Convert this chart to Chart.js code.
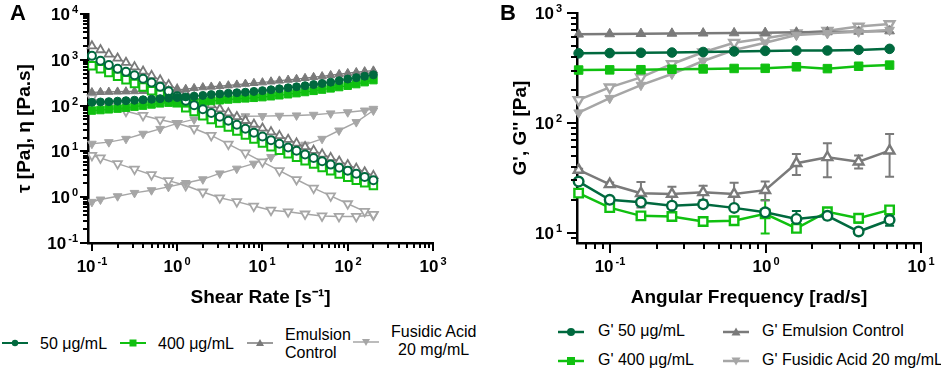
<!DOCTYPE html>
<html lang="en">
<head>
  <meta charset="UTF-8">
  <script src="https://cdn.jsdelivr.net/npm/chart.js"></script>
  <title>Rheology of emulsions</title>
  <style>
    body {
      margin: 0;
      background: #fff;
      font-family: "Liberation Sans", Arial, sans-serif;
      color: #000;
    }
    #wrap { position: relative; width: 941px; height: 372px; overflow: hidden; }
    #wrap canvas { position: absolute; top: 0; }
    #chartA { left: 0; }
    #chartB { left: 470px; }
    .panel { position: absolute; top: 0; font-weight: bold; font-size: 22px; }
    .leg { position: absolute; font-size: 16px; line-height: 18px; white-space: nowrap; }
    .sym { position: absolute; }
  </style>
</head>
<body>
<div id="wrap">
  <canvas id="chartA" width="470" height="320"></canvas>
  <canvas id="chartB" width="471" height="320"></canvas>
  <div class="panel" style="left:10px;">A</div>
  <div class="panel" style="left:500px;">B</div>

  <!-- legend A -->
  <svg class="sym" style="left:2px;top:337px" width="26" height="12"><line x1="0" y1="6" x2="26" y2="6" stroke="#00693e" stroke-width="2"/><circle cx="13" cy="6" r="3.2" fill="#00693e"/></svg>
  <div class="leg" style="left:40px;top:335px">50 μg/mL</div>
  <svg class="sym" style="left:120px;top:337px" width="26" height="12"><line x1="0" y1="6" x2="26" y2="6" stroke="#10c010" stroke-width="2"/><rect x="9.5" y="2.5" width="7" height="7" fill="#10c010"/></svg>
  <div class="leg" style="left:158px;top:335px">400 μg/mL</div>
  <svg class="sym" style="left:247px;top:337px" width="26" height="12"><line x1="0" y1="6" x2="26" y2="6" stroke="#7a7a7a" stroke-width="1.5"/><polygon points="13,2 17,9 9,9" fill="#7a7a7a"/></svg>
  <div class="leg" style="left:285px;top:326px">Emulsion<br>Control</div>
  <svg class="sym" style="left:353px;top:336px" width="26" height="12"><line x1="0" y1="6" x2="26" y2="6" stroke="#a6a6a6" stroke-width="1.5"/><polygon points="9,3 17,3 13,10" fill="#a6a6a6"/></svg>
  <div class="leg" style="left:391px;top:323px;text-align:center">Fusidic Acid<br>20 mg/mL</div>

  <!-- legend B -->
  <svg class="sym" style="left:558px;top:326px" width="26" height="12"><line x1="0" y1="6" x2="26" y2="6" stroke="#00693e" stroke-width="2.5"/><circle cx="13" cy="6" r="4" fill="#00693e"/></svg>
  <div class="leg" style="left:598px;top:322px">G' 50 μg/mL</div>
  <svg class="sym" style="left:558px;top:355px" width="26" height="12"><line x1="0" y1="6" x2="26" y2="6" stroke="#10c010" stroke-width="2.5"/><rect x="9" y="2" width="8" height="8" fill="#10c010"/></svg>
  <div class="leg" style="left:598px;top:351px">G' 400 μg/mL</div>
  <svg class="sym" style="left:723px;top:326px" width="26" height="12"><line x1="0" y1="6" x2="26" y2="6" stroke="#7a7a7a" stroke-width="2.5"/><polygon points="13,1.5 17.5,9.5 8.5,9.5" fill="#7a7a7a"/></svg>
  <div class="leg" style="left:762px;top:322px">G' Emulsion Control</div>
  <svg class="sym" style="left:723px;top:355px" width="26" height="12"><line x1="0" y1="6" x2="26" y2="6" stroke="#a6a6a6" stroke-width="2.5"/><polygon points="8.5,2.5 17.5,2.5 13,10.5" fill="#a6a6a6"/></svg>
  <div class="leg" style="left:762px;top:351px">G' Fusidic Acid 20 mg/mL</div>
</div>

<script>
// ---- Panel A: flow curves (shear stress tau, viscosity eta) ----
const shearRate = [0.1, 0.126, 0.158, 0.2, 0.251, 0.316, 0.398, 0.501, 0.631, 0.794,
                   1, 1.26, 1.58, 2, 2.51, 3.16, 3.98, 5.01, 6.31, 7.94,
                   10, 12.6, 15.8, 20, 25.1, 31.6, 39.8, 50.1, 63.1, 79.4,
                   100, 126, 158, 200];
const tau50 = [118, 120, 122, 125, 128, 131, 134, 138, 142, 146, 150, 155, 161, 167, 174, 180, 186, 191, 196, 204,
               212, 222, 233, 245, 258, 272, 288, 305, 325, 350, 380, 408, 438, 470];
const eta50 = [1220, 950, 770, 640, 545, 460, 385, 318, 258, 205, 160, 128, 102, 83.5, 69, 57, 46.7, 38.1, 31.1, 25.7,
               21.2, 17.6, 14.7, 12.2, 10.3, 8.6, 7.2, 6.1, 5.15, 4.4, 3.8, 3.24, 2.77, 2.35];
const tau400 = [78, 80, 83, 86, 90, 95, 100, 106, 112, 116, 115, 112, 115, 120, 126, 131, 136, 140, 144, 148,
                153, 160, 168, 177, 187, 198, 210, 224, 238, 254, 272, 295, 325, 360];
const eta400 = [740, 640, 530, 440, 365, 305, 255, 212, 178, 146, 116, 90, 74, 60, 50, 41.5, 34.2, 28, 22.9, 18.7,
                15.3, 12.7, 10.6, 8.85, 7.45, 6.27, 5.28, 4.47, 3.77, 3.2, 2.72, 2.34, 2.06, 1.8];
const tauEmul = [195, 197, 199, 201, 203, 205, 208, 211, 214, 217, 220, 230, 240, 250, 258, 266, 275, 286, 298, 310,
                 320, 335, 350, 365, 380, 398, 418, 435, 460, 485, 510, 535, 558, 580];
const etaEmul = [2000, 1650, 1330, 1080, 870, 700, 560, 450, 360, 285, 225, 185, 152, 125, 103, 84, 69, 57, 47, 39,
                 32, 26.6, 22.1, 18.2, 15.1, 12.6, 10.5, 8.7, 7.3, 6.1, 5.1, 4.25, 3.55, 2.95];

// fusidic acid was run on two coarser grids
const shearRateFusA = [0.1, 0.158, 0.251, 0.398, 0.631, 1, 1.58, 2.51, 3.98, 6.31, 10, 15.8, 25.1, 39.8, 63.1, 100, 158, 200];
const tauFusA = [14.7, 15.9, 18.8, 24.3, 31, 41, 50, 56, 57.5, 58.5, 59, 60, 61, 63, 67.5, 71.6, 78, 85];
const etaFusA = [147, 100, 75, 61, 49, 41, 31.6, 22.3, 14.4, 9.3, 5.9, 3.8, 2.43, 1.58, 1.07, 0.72, 0.49, 0.42];
const shearRateFusB = [0.1, 0.126, 0.2, 0.316, 0.5, 0.79, 1.26, 2, 3.16, 5, 7.9, 12.6, 20, 31.6, 50, 79, 126, 200];
const tauFusB = [0.79, 0.89, 1.05, 1.24, 1.42, 1.68, 2.04, 2.46, 3.3, 4.2, 5.4, 7.5, 10.5, 14, 18.8, 28.6, 43.6, 78];
const etaFusB = [8.2, 7.2, 5.4, 4.1, 3.1, 2.3, 1.8, 1.3, 0.97, 0.8, 0.64, 0.52, 0.48, 0.43, 0.39, 0.38, 0.38, 0.41];

// ---- Panel B: frequency sweep (G' filled, G'' open) ----
const angFreq = [0.0628, 0.0995, 0.158, 0.25, 0.397, 0.628, 0.995, 1.58, 2.5, 3.97, 6.28];
const gp50 = [430, 432, 435, 437, 442, 447, 452, 455, 456, 462, 472];
const gpp50 = [29.3, 20, 19, 17.7, 18.2, 16.9, 15.4, 13.4, 14.3, 10.3, 13.1];
const gpp50Sd = [0, 0, 0, 0, 0, 0, 0, 2.4, 1, 0, 1.5];
const gp400 = [303, 304, 305, 308, 310, 313, 314, 324, 312, 328, 336];
const gpp400 = [23, 17, 14.3, 14.1, 12.7, 12.9, 14.9, 11, 15.6, 13.6, 16.2];
const gpp400Sd = [0, 0, 0, 0, 0, 0, 5, 0.8, 0.8, 1.2, 0.8];
const gpEmul = [640, 645, 648, 652, 655, 658, 662, 667, 672, 680, 685];
const gppEmul = [37.4, 27.7, 23, 22.6, 23.4, 22.6, 24.5, 43, 48.7, 44.5, 56];
const gppEmulSd = [1, 1, 6, 3.7, 3.5, 6, 4.8, 9.3, 16.6, 6, 23.5];
const gpFus = [124, 168, 221, 279, 366, 461, 537, 631, 653, 676, 700];
const gppFus = [162, 211, 260, 344, 440, 537, 589, 653, 690, 752, 794];

// axis ticks (powers of ten get labels)
const majorA_x = [0.1, 1, 10, 100, 1000];
const majorA_y = [0.1, 1, 10, 100, 1000, 10000];
const majorB_x = [0.1, 1, 10];
const majorB_y = [10, 100, 1000];

const DARK_GREEN = '#00693e';
const GREEN = '#10c010';
const GREY = '#7a7a7a';
const LIGHT_GREY = '#a6a6a6';

function minorTicks(min, max) {
  const out = [];
  for (let e = Math.floor(Math.log10(min)); e < Math.ceil(Math.log10(max)); e++) {
    for (let m = 2; m <= 9; m++) {
      const v = m * Math.pow(10, e);
      if (v > min * 1.001 && v < max) out.push(v);
    }
  }
  return out;
}

function pts(xs, ys) {
  return xs.map((x, i) => ({ x: x, y: ys[i] }));
}

function series(label, xs, ys, color, shape, open, radius, lineWidth, markerWidth, extra) {
  return Object.assign({
    label: label,
    data: pts(xs, ys),
    borderColor: color,
    backgroundColor: open ? '#ffffff' : color,
    pointBackgroundColor: open ? '#ffffff' : color,
    pointBorderColor: color,
    pointBorderWidth: open ? markerWidth : 1,
    pointStyle: shape === 'down' ? 'triangle' : shape,
    pointRotation: shape === 'down' ? 180 : 0,
    pointRadius: radius,
    borderWidth: lineWidth,
    tension: 0,
    clip: false
  }, extra || {});
}

function powerLabel(ctx, exp, x, y, align) {
  const base = '10', sup = String(exp);
  ctx.font = 'bold 17px "Liberation Sans", Arial, sans-serif';
  const wb = ctx.measureText(base).width;
  ctx.font = 'bold 11px "Liberation Sans", Arial, sans-serif';
  const ws = ctx.measureText(sup).width;
  const w = wb + 2 + ws;
  const x0 = align === 'center' ? x - w / 2 : x - w;
  ctx.textAlign = 'left';
  ctx.textBaseline = 'alphabetic';
  ctx.font = 'bold 17px "Liberation Sans", Arial, sans-serif';
  ctx.fillText(base, x0, y);
  ctx.font = 'bold 11px "Liberation Sans", Arial, sans-serif';
  ctx.fillText(sup, x0 + wb + 2, y - 7);
}

// draws outward ticks + 10^n labels
const axisDecor = {
  id: 'axisDecor',
  afterDraw(chart, args, o) {
    const ctx = chart.ctx, xs = chart.scales.x, ys = chart.scales.y, ca = chart.chartArea;
    ctx.save();
    ctx.strokeStyle = '#000';
    ctx.fillStyle = '#000';
    ctx.lineWidth = 2;
    const line = (x1, y1, x2, y2) => { ctx.beginPath(); ctx.moveTo(x1, y1); ctx.lineTo(x2, y2); ctx.stroke(); };

    minorTicks(xs.min, xs.max).forEach(v => {
      const x = Math.round(xs.getPixelForValue(v));
      line(x, ca.bottom, x, ca.bottom + o.minorLen);
    });
    o.xMajor.forEach(v => {
      const x = Math.round(xs.getPixelForValue(v));
      line(x, ca.bottom, x, ca.bottom + o.majorLen);
      powerLabel(ctx, Math.round(Math.log10(v)), x, o.xLabelY, 'center');
    });
    minorTicks(ys.min, ys.max).forEach(v => {
      const y = Math.round(ys.getPixelForValue(v));
      line(ca.left - o.minorLen, y, ca.left, y);
    });
    o.yMajor.forEach(v => {
      const y = Math.round(ys.getPixelForValue(v));
      line(ca.left - o.majorLen, y, ca.left, y);
      powerLabel(ctx, Math.round(Math.log10(v)), ca.left - o.yLabelGap, y + 6, 'right');
    });
    ctx.restore();
  }
};

// symmetric SD bars for datasets that carry an "sd" array
const errorBars = {
  id: 'errorBars',
  beforeDatasetsDraw(chart) {
    const ctx = chart.ctx, xs = chart.scales.x, ys = chart.scales.y;
    ctx.save();
    chart.data.datasets.forEach(ds => {
      if (!ds.sd) return;
      ctx.strokeStyle = ds.borderColor;
      ctx.lineWidth = 2;
      ds.data.forEach((p, i) => {
        const e = ds.sd[i];
        if (!e) return;
        const x = xs.getPixelForValue(p.x);
        const yt = ys.getPixelForValue(p.y + e);
        const yb = ys.getPixelForValue(Math.max(p.y - e, 0.01));
        ctx.beginPath();
        ctx.moveTo(x, yt); ctx.lineTo(x, yb);
        ctx.moveTo(x - 4.5, yt); ctx.lineTo(x + 4.5, yt);
        ctx.moveTo(x - 4.5, yb); ctx.lineTo(x + 4.5, yb);
        ctx.stroke();
      });
    });
    ctx.restore();
  }
};

Chart.defaults.font.family = '"Liberation Sans", Arial, sans-serif';
Chart.defaults.color = '#000';

function logAxis(min, max, fitSize, horizontal, title, titlePad) {
  return {
    type: 'logarithmic',
    min: min,
    max: max,
    bounds: 'data',
    ticks: { display: false },
    grid: { display: false },
    border: { display: true, color: '#000', width: 2.5 },
    title: {
      display: true,
      text: title,
      color: '#000',
      font: { size: 19, weight: 'bold' },
      padding: titlePad
    },
    afterFit(scale) {
      if (horizontal) scale.height = fitSize; else scale.width = fitSize;
    }
  };
}

new Chart(document.getElementById('chartA'), {
  type: 'line',
  data: {
    datasets: [
      series('50 μg/mL τ', shearRate, tau50, DARK_GREEN, 'circle', false, 4, 1.3, 1),
      series('50 μg/mL η', shearRate, eta50, DARK_GREEN, 'circle', true, 4, 1.5, 2),
      series('400 μg/mL τ', shearRate, tau400, GREEN, 'rect', false, 5.3, 1.3, 1),
      series('400 μg/mL η', shearRate, eta400, GREEN, 'rect', true, 5.3, 1.5, 2),
      series('Emulsion Control τ', shearRate, tauEmul, GREY, 'triangle', false, 4.8, 1.3, 1),
      series('Emulsion Control η', shearRate, etaEmul, GREY, 'triangle', true, 4.8, 1.5, 1.8),
      series('Fusidic Acid τ (a)', shearRateFusA, tauFusA, LIGHT_GREY, 'down', false, 5, 1.4, 1),
      series('Fusidic Acid η (a)', shearRateFusA, etaFusA, LIGHT_GREY, 'down', true, 5, 1.5, 1.8),
      series('Fusidic Acid τ (b)', shearRateFusB, tauFusB, LIGHT_GREY, 'down', false, 5, 1.4, 1),
      series('Fusidic Acid η (b)', shearRateFusB, etaFusB, LIGHT_GREY, 'down', true, 5, 1.5, 1.8)
    ]
  },
  options: {
    responsive: false,
    animation: false,
    devicePixelRatio: 1,
    layout: { padding: { top: 14, right: 37, left: 0, bottom: 0 } },
    scales: {
      x: logAxis(0.09, 1000, 77, true, 'Shear Rate [s⁻¹]', { top: 0, bottom: 11 }),
      y: logAxis(0.1, 10000, 88, false, 'τ [Pa], η [Pa.s]', { top: 13, bottom: 0 })
    },
    plugins: {
      legend: { display: false },
      tooltip: { enabled: false },
      axisDecor: { xMajor: majorA_x, yMajor: majorA_y, majorLen: 8, minorLen: 5, xLabelY: 272, yLabelGap: 10 }
    }
  },
  plugins: [axisDecor]
});

new Chart(document.getElementById('chartB'), {
  type: 'line',
  data: {
    datasets: [
      series("G' 50 μg/mL", angFreq, gp50, DARK_GREEN, 'circle', false, 4.8, 2.5, 1),
      series("G' 400 μg/mL", angFreq, gp400, GREEN, 'rect', false, 6, 2.5, 1),
      series("G' Fusidic Acid 20 mg/mL", angFreq, gpFus, LIGHT_GREY, 'down', false, 5.6, 2.5, 1),
      series("G' Emulsion Control", angFreq, gpEmul, GREY, 'triangle', false, 5.6, 2.5, 1),
      series("G'' Fusidic Acid 20 mg/mL", angFreq, gppFus, LIGHT_GREY, 'down', true, 5.6, 2.5, 2.4),
      series("G'' 50 μg/mL", angFreq, gpp50, DARK_GREEN, 'circle', true, 4.8, 2.5, 2.4, { sd: gpp50Sd }),
      series("G'' 400 μg/mL", angFreq, gpp400, GREEN, 'rect', true, 6, 2.5, 2.4, { sd: gpp400Sd }),
      series("G'' Emulsion Control", angFreq, gppEmul, GREY, 'triangle', true, 5.6, 2.5, 2.4, { sd: gppEmulSd })
    ]
  },
  options: {
    responsive: false,
    animation: false,
    devicePixelRatio: 1,
    layout: { padding: { top: 13, right: 20, left: 0, bottom: 0 } },
    scales: {
      x: logAxis(0.0613, 10, 77, true, 'Angular Frequency [rad/s]', { top: 0, bottom: 11 }),
      y: logAxis(8.1, 1000, 107, false, "G', G'' [Pa]", { top: 39, bottom: 0 })
    },
    plugins: {
      legend: { display: false },
      tooltip: { enabled: false },
      axisDecor: { xMajor: majorB_x, yMajor: majorB_y, majorLen: 10, minorLen: 6, xLabelY: 272, yLabelGap: 15 }
    }
  },
  plugins: [axisDecor, errorBars]
});
</script>
</body>
</html>
